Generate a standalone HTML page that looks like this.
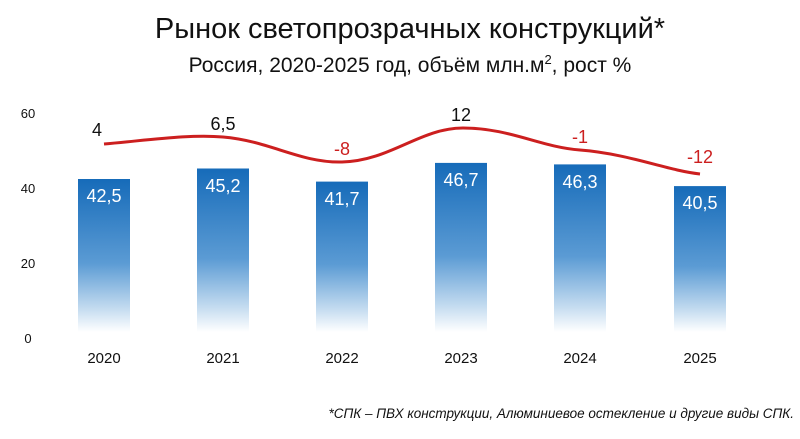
<!DOCTYPE html>
<html><head><meta charset="utf-8"><style>
body{margin:0;background:#fff;width:800px;height:434px;overflow:hidden;font-family:"Liberation Sans",sans-serif}
</style></head><body>
<svg width="800" height="434" xmlns="http://www.w3.org/2000/svg" font-family="Liberation Sans, sans-serif">
<defs><linearGradient id="g" x1="0" y1="0" x2="0" y2="1">
<stop offset="0" stop-color="#166bb9"/><stop offset="0.55" stop-color="#5b9bd4"/><stop offset="0.85" stop-color="#c5dcf0"/><stop offset="1" stop-color="#ffffff"/></linearGradient></defs>
<text x="410" y="38" text-anchor="middle" font-size="29" fill="#111">Рынок светопрозрачных конструкций*</text>
<text x="410" y="72" text-anchor="middle" font-size="21" fill="#111">Россия, 2020-2025 год, объём млн.м<tspan font-size="13" dy="-8">2</tspan><tspan dy="8">, рост %</tspan></text>
<g font-size="13" fill="#111" text-anchor="middle">
<text x="28" y="118">60</text><text x="28" y="193">40</text><text x="28" y="268">20</text><text x="28" y="343">0</text></g>
<g fill="url(#g)">
<rect x="78" y="179" width="52" height="153"/>
<rect x="197" y="168.5" width="52" height="163.5"/>
<rect x="316" y="181.6" width="52" height="150.4"/>
<rect x="435" y="162.9" width="52" height="169.1"/>
<rect x="554" y="164.4" width="52" height="167.6"/>
<rect x="674" y="186.1" width="52" height="145.9"/>
</g>
<g font-size="18" fill="#fff" text-anchor="middle">
<text x="104" y="202">42,5</text><text x="223" y="192">45,2</text><text x="342" y="205">41,7</text>
<text x="461" y="186">46,7</text><text x="580" y="188">46,3</text><text x="700" y="209">40,5</text></g>
<path d="M104,144 C150,140 190,134 223,137 C270,141 300,163 342,162 C390,161 420,128 463,128 C510,128 540,147 580,150 C630,154 665,170 700,174" fill="none" stroke="#cc1f1f" stroke-width="3"/>
<g font-size="18" text-anchor="middle">
<text x="97" y="136" fill="#111">4</text><text x="223" y="130" fill="#111">6,5</text>
<text x="342" y="155" fill="#cc1f1f">-8</text><text x="461" y="121" fill="#111">12</text>
<text x="580" y="143" fill="#cc1f1f">-1</text><text x="700" y="163" fill="#cc1f1f">-12</text></g>
<g font-size="15" fill="#111" text-anchor="middle">
<text x="104" y="363">2020</text><text x="223" y="363">2021</text><text x="342" y="363">2022</text>
<text x="461" y="363">2023</text><text x="580" y="363">2024</text><text x="700" y="363">2025</text></g>
<text x="794" y="418" text-anchor="end" font-size="13.5" font-style="italic" fill="#111">*СПК – ПВХ конструкции, Алюминиевое остекление и другие виды СПК.</text>
</svg>
</body></html>
